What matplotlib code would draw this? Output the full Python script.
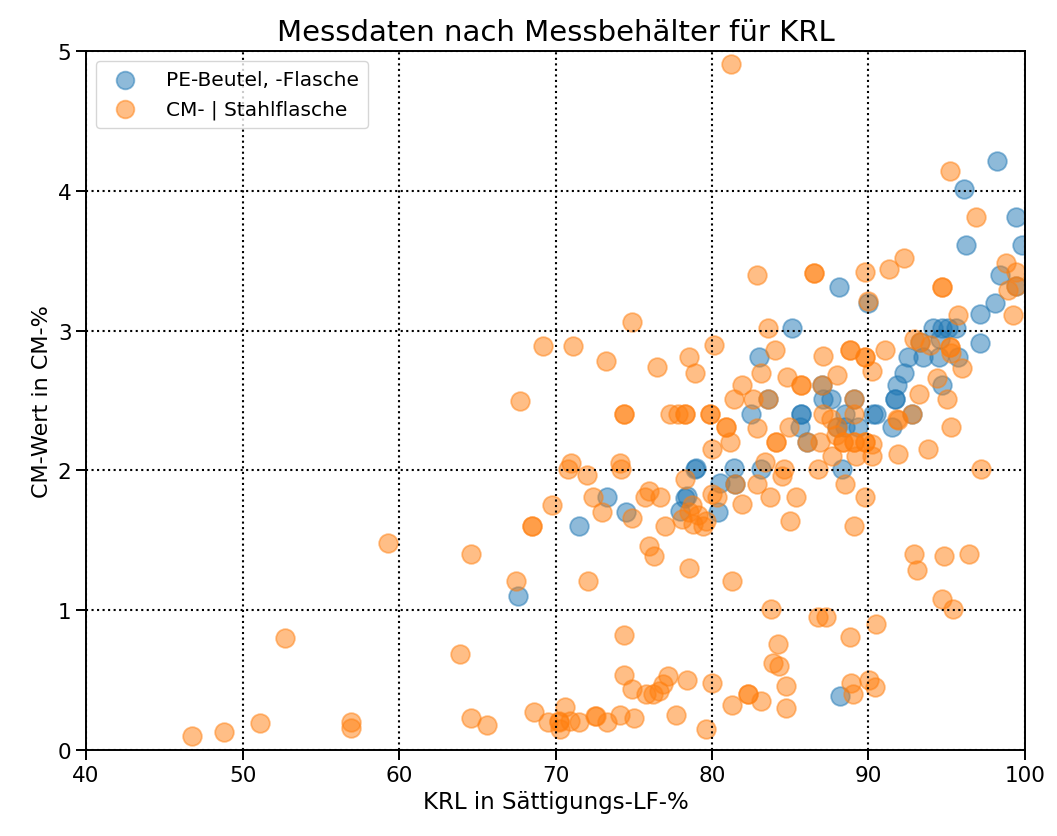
import matplotlib
matplotlib.use("Agg")
import matplotlib.pyplot as plt

# PE-Beutel, -Flasche
pe_krl = [67.6, 71.5, 73.3, 74.5, 77.95, 78.3, 78.4, 78.9, 79.0, 80.4, 80.5, 81.4, 81.5,
          83.1, 82.5, 83.6, 83.0, 85.1, 85.6, 85.7, 85.7, 86.1, 87.1, 87.6, 87.0, 88.1,
          88.3, 88.5, 88.5, 89.3, 88.0, 89.1, 90.0, 90.3, 90.5, 91.5, 91.7, 91.7, 91.8,
          92.3, 92.5, 92.8, 93.3, 93.5, 94.1, 94.5, 94.6, 94.7, 94.7, 95.1, 95.6, 95.7,
          96.1, 96.2, 97.1, 97.1, 98.1, 98.2, 98.4, 99.4, 99.4, 99.8, 88.2]
pe_cm = [1.10, 1.60, 1.81, 1.70, 1.71, 1.80, 1.82, 2.01, 2.02, 1.70, 1.91, 2.02, 1.90,
         2.01, 2.40, 2.51, 2.81, 3.02, 2.31, 2.40, 2.40, 2.20, 2.51, 2.51, 2.61, 3.31,
         2.01, 2.40, 2.31, 2.31, 2.31, 2.51, 3.20, 2.40, 2.40, 2.31, 2.51, 2.51, 2.61,
         2.70, 2.81, 2.40, 2.92, 2.81, 3.02, 2.81, 2.94, 3.02, 2.61, 3.02, 3.02, 2.81,
         4.01, 3.61, 3.12, 2.91, 3.20, 4.21, 3.40, 3.81, 3.32, 3.61, 0.39]

# CM- | Stahlflasche
st_krl = [46.8, 48.8, 51.1, 52.7, 56.9, 56.9, 59.3, 63.9, 64.6, 64.6, 65.6, 67.5, 67.7,
          68.5, 68.5, 68.6, 69.2, 69.5, 69.75, 70.2, 70.2, 70.6, 70.3, 70.9, 71.5, 70.8,
          71.0, 71.1, 72.0, 72.1, 72.4, 72.5, 72.6, 72.95, 73.2, 73.3, 74.1, 74.2, 74.1,
          74.4, 74.4, 74.4, 74.4, 74.9, 74.9, 74.9, 75.0, 75.7, 76.0, 76.7, 76.0, 76.3,
          75.8, 76.2, 76.6, 76.9, 77.2, 76.5, 77.0, 77.3, 77.8, 78.3, 78.3, 77.7, 78.3,
          78.4, 78.5, 78.9, 78.5, 78.1, 78.5, 78.8, 79.1, 79.4, 79.6, 78.7, 79.6, 79.9,
          79.9, 80.0, 80.1, 80.0, 80.3, 80.0, 80.9, 80.9, 81.15, 81.4, 81.5, 81.3, 81.9,
          81.9, 81.3, 82.3, 82.3, 83.1, 82.6, 82.9, 82.85, 82.85, 83.1, 83.4, 83.6, 83.6,
          83.7, 83.75, 83.9, 84.3, 84.2, 84.0, 84.1, 84.1, 84.5, 84.6, 84.7, 84.7, 84.8,
          84.9, 85.0, 85.4, 85.7, 85.7, 86.1, 86.5, 86.5, 86.8, 86.9, 86.8, 87.3, 87.0,
          87.1, 87.1, 87.6, 87.65, 87.9, 88.0, 88.0, 88.4, 88.4, 88.5, 88.8, 88.8, 88.8,
          88.9, 89.0, 89.1, 89.1, 89.1, 89.1, 89.1, 89.2, 89.8, 89.8, 89.8, 89.8, 89.8,
          89.8, 90.0, 90.05, 90.2, 90.2, 90.2, 90.4, 90.5, 91.05, 91.3, 91.8, 91.9, 91.9,
          92.3, 92.8, 92.9, 92.9, 93.1, 93.2, 93.3, 93.8, 93.9, 94.35, 94.7, 94.7, 94.7,
          94.8, 95.0, 95.2, 95.2, 95.2, 95.3, 95.3, 95.4, 95.7, 96.0, 96.4, 96.9, 97.2,
          98.8, 98.9, 99.25, 99.4, 99.4, 81.2]
st_cm = [0.10, 0.13, 0.19, 0.80, 0.20, 0.16, 1.48, 0.69, 1.40, 0.23, 0.18, 1.21, 2.50,
         1.60, 1.60, 0.27, 2.89, 0.20, 1.75, 0.20, 0.21, 0.31, 0.15, 0.21, 0.20, 2.01,
         2.05, 2.89, 1.97, 1.21, 1.81, 0.24, 0.24, 1.70, 2.78, 0.20, 2.05, 2.01, 0.25,
         2.40, 2.40, 0.82, 0.54, 3.06, 1.66, 0.44, 0.23, 1.81, 1.85, 1.81, 1.46, 1.39,
         0.40, 0.40, 0.42, 0.47, 0.53, 2.74, 1.60, 2.40, 2.40, 2.40, 2.40, 0.25, 1.94,
         0.50, 2.81, 2.70, 1.30, 1.65, 1.70, 1.62, 1.68, 1.60, 1.64, 1.75, 0.15, 2.40,
         2.40, 2.15, 2.90, 1.83, 1.81, 0.48, 2.31, 2.31, 2.20, 2.51, 1.90, 1.21, 1.76,
         2.61, 0.32, 0.40, 0.40, 0.35, 2.51, 2.30, 1.90, 3.40, 2.70, 2.06, 3.02, 2.51,
         1.81, 1.01, 0.62, 0.60, 0.76, 2.86, 2.20, 2.20, 1.96, 2.01, 0.46, 0.30, 2.67,
         2.31, 1.64, 1.81, 2.61, 2.61, 2.20, 3.41, 3.41, 2.01, 2.20, 0.95, 0.95, 2.61,
         2.82, 2.40, 2.37, 2.10, 2.25, 2.31, 2.68, 2.20, 2.20, 1.90, 2.86, 2.86, 0.81,
         0.48, 0.40, 2.40, 2.51, 1.60, 2.20, 2.20, 2.10, 2.81, 2.81, 2.20, 2.20, 3.42,
         1.81, 3.21, 0.50, 2.19, 2.10, 2.71, 0.45, 0.90, 2.86, 3.44, 2.37, 2.36, 2.12,
         3.52, 2.40, 2.94, 1.40, 1.29, 2.55, 2.92, 2.15, 2.90, 2.66, 3.31, 3.31, 1.08,
         1.39, 2.51, 4.14, 2.88, 2.88, 2.84, 2.31, 1.01, 3.11, 2.73, 1.40, 3.81, 2.01,
         3.48, 3.29, 3.11, 3.42, 3.32, 4.91]

fig = plt.figure(figsize=(10.57, 8.37), dpi=100)
ax = fig.add_axes([0.0814, 0.1027, 0.8883, 0.8352])

ax.scatter(pe_krl, pe_cm, s=180, alpha=0.5, color='tab:blue', linewidths=1.3,
           label='PE-Beutel, -Flasche')
ax.scatter(st_krl, st_cm, s=180, alpha=0.5, color='tab:orange', linewidths=1.3,
           label='CM- | Stahlflasche')

ax.set_xlim(40, 100)
ax.set_ylim(0, 5)
ax.set_xticks([40, 50, 60, 70, 80, 90, 100])
ax.set_yticks([0, 1, 2, 3, 4, 5])
ax.grid(True, color='black', linestyle=':', linewidth=1.5)
ax.tick_params(labelsize=15.5, length=7, width=1.4)
for sp in ax.spines.values():
    sp.set_linewidth(1.4)

ax.set_xlabel('KRL in Sättigungs-LF-%', fontsize=16.5)
ax.set_ylabel('CM-Wert in CM-%', fontsize=16)
ax.set_title('Messdaten nach Messbehälter für KRL', fontsize=21, pad=8)
ax.legend(loc='upper left', fontsize=14.5, markerscale=0.95, borderpad=0.45,
          handletextpad=1.0)

fig.savefig('out.png', dpi=100)
